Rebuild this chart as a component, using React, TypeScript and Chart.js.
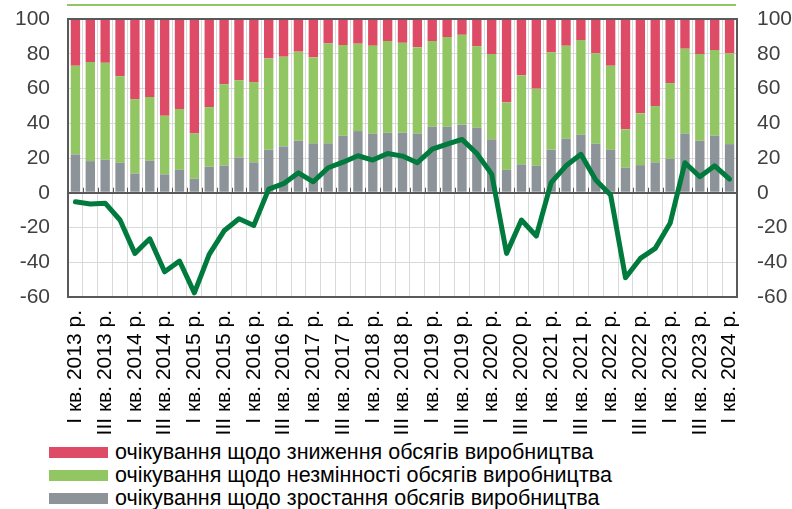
import React, { useEffect, useRef } from "react";
import { Chart, registerables } from "chart.js";

Chart.register(...registerables);

const years = [2013, 2014, 2015, 2016, 2017, 2018, 2019, 2020, 2021, 2022, 2023, 2024];
const quarters = ["I", "II", "III", "IV"];
const categories: string[] = [];
years.forEach((y) => quarters.forEach((q) => categories.push(`${q} кв. ${y} р.`)));
categories.splice(45);

// очікування щодо зростання обсягів виробництва
const growth = [
  22.1, 18.2, 19.0, 17.3, 11.1, 18.4, 10.6, 13.2, 8.1, 15.0, 15.7, 20.3, 17.5, 24.7, 26.7,
  29.9, 28.4, 28.4, 32.8, 35.5, 34.0, 34.5, 34.5, 34.1, 38.0, 38.0, 39.1, 37.4, 30.7, 13.2,
  16.3, 15.5, 24.7, 31.1, 33.4, 28.2, 24.7, 14.4, 15.9, 17.5, 19.6, 34.0, 29.9, 32.8, 28.0,
];
// очікування щодо незмінності обсягів виробництва
const unchanged = [
  51.0, 57.0, 55.8, 49.7, 42.8, 36.7, 33.7, 35.0, 26.0, 34.3, 46.8, 44.5, 46.2, 52.6, 51.6,
  51.3, 49.5, 57.5, 52.2, 50.3, 50.6, 52.8, 51.8, 49.7, 49.3, 51.6, 51.8, 47.0, 49.1, 38.8,
  51.2, 44.4, 56.1, 53.5, 54.5, 52.0, 48.4, 22.1, 29.8, 32.4, 43.5, 48.9, 49.9, 49.3, 52.2,
];
// очікування щодо зниження обсягів виробництва
const decline = [
  26.9, 24.8, 25.2, 33.0, 46.1, 44.9, 55.7, 51.8, 65.9, 50.7, 37.5, 35.2, 36.3, 22.7, 21.7,
  18.8, 22.1, 14.1, 15.0, 14.2, 15.4, 12.7, 13.7, 16.2, 12.7, 10.4, 9.1, 15.6, 20.2, 48.0,
  32.5, 40.1, 19.2, 15.4, 12.1, 19.8, 26.9, 63.5, 54.3, 50.1, 36.9, 17.1, 20.2, 17.9, 19.8,
];
// баланс очікувань
const balance = [
  -5.2, -6.5, -6.0, -15.7, -34.9, -26.5, -45.5, -39.3, -57.6, -35.5, -21.9, -15.0, -18.8, 2.1, 5.2,
  11.5, 6.3, 14.4, 17.6, 21.3, 18.8, 22.6, 21.1, 17.3, 25.1, 28.0, 30.7, 22.6, 10.7, -34.9,
  -15.7, -24.9, 5.8, 15.5, 22.1, 7.3, -1.3, -48.9, -37.8, -32.0, -17.6, 17.3, 9.2, 15.5, 7.9,
];

const yTicks = [100, 80, 60, 40, 20, 0, -20, -40, -60];

const legendItems = [
  { label: "очікування щодо зниження обсягів виробництва", color: "#DE4B66" },
  { label: "очікування щодо незмінності обсягів виробництва", color: "#92C662" },
  { label: "очікування щодо зростання обсягів виробництва", color: "#8D9499" },
];

const FONT = "'Liberation Sans', Arial, sans-serif";

const framePlugin = {
  id: "frame",
  beforeDatasetsDraw(chart: any) {
    const { ctx, scales } = chart;
    const xs = scales.x;
    const y0 = scales.y.getPixelForValue(0);
    ctx.save();
    ctx.strokeStyle = "#595959";
    ctx.lineWidth = 1;
    for (let i = 0; i <= categories.length; i++) {
      const px = Math.round(xs.getPixelForValue(i - 0.5)) + 0.5;
      ctx.beginPath();
      ctx.moveTo(px, y0 - 5);
      ctx.lineTo(px, y0);
      ctx.stroke();
    }
    ctx.restore();
  },
  afterDraw(chart: any) {
    const { ctx, chartArea } = chart;
    ctx.save();
    ctx.strokeStyle = "#595959";
    ctx.lineWidth = 2;
    ctx.strokeRect(chartArea.left, chartArea.top, chartArea.right - chartArea.left, chartArea.bottom - chartArea.top);
    ctx.restore();
  },
};

export default function App() {
  const canvasRef = useRef<HTMLCanvasElement | null>(null);

  useEffect(() => {
    if (!canvasRef.current) return;
    const chart = new Chart(canvasRef.current, {
      type: "bar",
      data: {
        labels: categories,
        datasets: [
          {
            type: "line",
            label: "баланс",
            data: balance,
            borderColor: "#007A3D",
            borderWidth: 5,
            pointRadius: 0,
            tension: 0,
            borderJoinStyle: "round",
            borderCapStyle: "round",
            yAxisID: "y",
            stack: "balance",
            order: 0,
          } as any,
          {
            label: legendItems[2].label,
            data: growth,
            backgroundColor: legendItems[2].color,
            stack: "s",
            order: 1,
            barPercentage: 0.63,
            categoryPercentage: 1,
          },
          {
            label: legendItems[1].label,
            data: unchanged,
            backgroundColor: legendItems[1].color,
            stack: "s",
            order: 1,
            barPercentage: 0.63,
            categoryPercentage: 1,
          },
          {
            label: legendItems[0].label,
            data: decline,
            backgroundColor: legendItems[0].color,
            stack: "s",
            order: 1,
            barPercentage: 0.63,
            categoryPercentage: 1,
          },
        ],
      },
      options: {
        animation: false,
        responsive: false,
        maintainAspectRatio: false,
        layout: { padding: { top: 19, left: 0, right: 0, bottom: 0 } },
        plugins: { legend: { display: false }, tooltip: { enabled: false } },
        scales: {
          x: {
            stacked: true,
            offset: true,
            grid: { display: true, offset: true, color: "#D9D9D9", lineWidth: 1, drawTicks: false },
            border: { display: false },
            ticks: {
              autoSkip: false,
              minRotation: 90,
              maxRotation: 90,
              padding: 13,
              color: "#000",
              font: { family: FONT, size: 21 },
              callback: (_v: any, i: number) => (i % 2 === 0 ? categories[i] : ""),
            },
            afterFit: (s: any) => {
              s.height = 143;
              s.paddingLeft = 0;
              s.paddingRight = 0;
            },
          },
          y: {
            stacked: true,
            min: -60,
            max: 100,
            afterBuildTicks: (s: any) => {
              s.ticks = yTicks.map((v) => ({ value: v }));
            },
            grid: {
              color: (c: any) => (c.tick && c.tick.value === 0 ? "#595959" : "#D9D9D9"),
              lineWidth: (c: any) => (c.tick && c.tick.value === 0 ? 2 : 1),
              drawTicks: false,
            },
            border: { display: false },
            ticks: { padding: 18, color: "#404040", font: { family: FONT, size: 21 } },
            afterFit: (s: any) => {
              s.width = 68;
              s.paddingTop = 0;
              s.paddingBottom = 0;
            },
          },
          y2: {
            position: "right",
            min: -60,
            max: 100,
            afterBuildTicks: (s: any) => {
              s.ticks = yTicks.map((v) => ({ value: v }));
            },
            grid: { display: false, drawTicks: false },
            border: { display: false },
            ticks: { padding: 20, color: "#404040", font: { family: FONT, size: 21 } },
            afterFit: (s: any) => {
              s.width = 55;
              s.paddingTop = 0;
              s.paddingBottom = 0;
            },
          },
        },
      } as any,
      plugins: [framePlugin],
    });
    return () => chart.destroy();
  }, []);

  return (
    <div style={{ position: "fixed", left: 0, top: 0, width: 792, height: 509, background: "#fff", overflow: "hidden", fontFamily: FONT }}>
      <div style={{ position: "absolute", left: 67, top: 4, width: 669, height: 2, background: "#92C662" }} />
      <canvas ref={canvasRef} width={792} height={440} style={{ position: "absolute", left: 0, top: 0, width: 792, height: 440 }} />
      <div style={{ position: "absolute", left: 49, top: 441 }}>
        {legendItems.map((it) => (
          <div key={it.label} style={{ display: "flex", alignItems: "center", height: 23 }}>
            <div style={{ width: 59, height: 11, background: it.color }} />
            <span style={{ marginLeft: 7, fontSize: 21.5, color: "#000", whiteSpace: "nowrap", lineHeight: "23px" }}>{it.label}</span>
          </div>
        ))}
      </div>
    </div>
  );
}
